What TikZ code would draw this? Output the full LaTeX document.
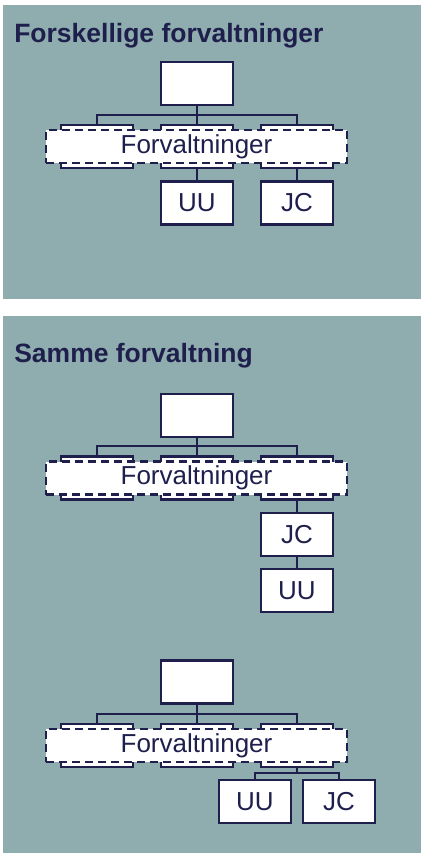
\documentclass[tikz,border=0pt]{standalone}
\usepackage{fontspec}
\setmainfont{Liberation Sans}
\definecolor{panel}{RGB}{143,173,174}
\definecolor{navy}{RGB}{31,31,77}

\begin{document}
\begin{tikzpicture}[x=1pt, y=-1pt, line width=2.6pt,
    every node/.style={font=\fontsize{26}{30}\selectfont, text=navy, inner sep=0pt},
    unit/.style={rectangle, draw=navy, fill=white, minimum width=72pt, minimum height=43pt},
    group/.style={rectangle, draw=navy, fill=white, dash pattern=on 8pt off 5pt, minimum width=301pt, minimum height=33pt},
    title/.style={anchor=base west, font=\fontsize{26.5}{30}\selectfont\bfseries},
    link/.style={draw=navy}]
    \useasboundingbox (0, 0) rectangle (423, 854);
    \fill[panel] (3, 5) rectangle (421, 299);
    \fill[panel] (3, 316) rectangle (421, 853);

    % Forskellige forvaltninger
    \node[title] (t1) at (13, 42) {Forskellige forvaltninger};
    \node[unit] (a0) at (197, 83.5) {};
    \node[unit] (a1) at (97, 146.5) {};
    \node[unit] (a2) at (197, 146.5) {};
    \node[unit] (a3) at (297, 146.5) {};
    \coordinate (aj) at (197, 115);
    \draw[link] (a0) -- (aj);
    \draw[link] (aj) -| (a1);
    \draw[link] (aj) -| (a3);
    \draw[link] (aj) -- (a2);
    \node[group] (ag) at (196.5, 146.5) {Forvaltninger};
    \node[unit] (auu) at (197, 203) {UU};
    \node[unit] (ajc) at (297, 203) {JC};
    \draw[link] (a2) -- (auu);
    \draw[link] (a3) -- (ajc);

    % Samme forvaltning
    \node[title] (t2) at (13, 362) {Samme forvaltning};
    \node[unit] (b0) at (197, 415.5) {};
    \node[unit] (b1) at (97, 478) {};
    \node[unit] (b2) at (197, 478) {};
    \node[unit] (b3) at (297, 478) {};
    \coordinate (bj) at (197, 446);
    \draw[link] (b0) -- (bj);
    \draw[link] (bj) -| (b1);
    \draw[link] (bj) -| (b3);
    \draw[link] (bj) -- (b2);
    \node[group] (bg) at (196.5, 478) {Forvaltninger};
    \node[unit] (bjc) at (297, 534.5) {JC};
    \node[unit] (buu) at (297, 590.5) {UU};
    \draw[link] (b3) -- (bjc);
    \draw[link] (bjc) -- (buu);

    \node[unit] (c0) at (197, 682) {};
    \node[unit] (c1) at (97, 745.5) {};
    \node[unit] (c2) at (197, 745.5) {};
    \node[unit] (c3) at (297, 745.5) {};
    \coordinate (cj) at (197, 714);
    \draw[link] (c0) -- (cj);
    \draw[link] (cj) -| (c1);
    \draw[link] (cj) -| (c3);
    \draw[link] (cj) -- (c2);
    \node[group] (cg) at (196.5, 745.5) {Forvaltninger};
    \node[unit] (cuu) at (255, 801.5) {UU};
    \node[unit] (cjc) at (339, 801.5) {JC};
    \coordinate (ck) at (297, 773);
    \draw[link] (c3) -- (ck);
    \draw[link] (ck) -| (cuu);
    \draw[link] (ck) -| (cjc);
\end{tikzpicture}
\end{document}
